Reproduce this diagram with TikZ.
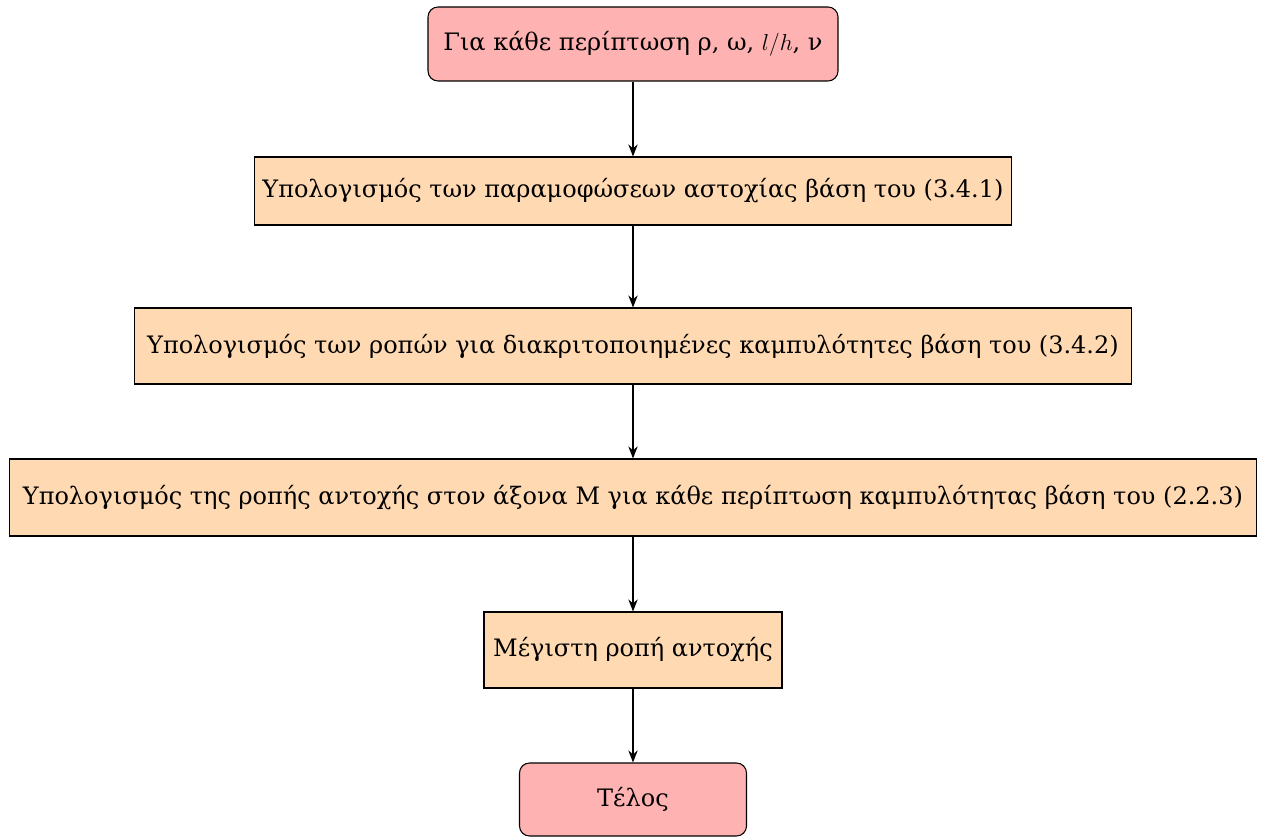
\documentclass[tikz,border=0pt]{standalone}
\usepackage{fontspec}
\setmainfont{DejaVu Serif}
\usetikzlibrary{arrows.meta}
\begin{document}
\begin{tikzpicture}[x=0.75pt,y=-0.75pt,
  every node/.style={font=\fontsize{18}{21}\selectfont, inner sep=0pt, align=center},
  startstop/.style={draw=black, line width=0.8pt, fill=red!30, rounded corners=7.5pt},
  process/.style={draw=black, line width=0.8pt, fill=orange!30},
  flow/.style={-{Stealth[length=9pt,width=7pt]}, line width=1.2pt}]
\useasboundingbox (0,0) rectangle (1264,837);
\node[startstop, minimum width=307.5pt, minimum height=55.5pt] (start) at (633,44)
  {Για κάθε περίπτωση ρ, ω, $l/h$, ν};
\node[process, minimum width=567.75pt, minimum height=51pt] (deform) at (633,191)
  {Υπολογισμός των παραμοφώσεων αστοχίας βάση του (3.4.1)};
\node[process, minimum width=747.75pt, minimum height=57pt] (moments) at (633,346)
  {Υπολογισμός των ροπών για διακριτοποιημένες καμπυλότητες βάση του (3.4.2)};
\node[process, minimum width=935.25pt, minimum height=57.75pt] (resist) at (633,497.5)
  {Υπολογισμός της ροπής αντοχής στον άξονα Μ για κάθε περίπτωση καμπυλότητας βάση του (2.2.3)};
\node[process, minimum width=223.5pt, minimum height=57pt] (max) at (633,650)
  {Μέγιστη ροπή αντοχής};
\node[startstop, minimum width=170.25pt, minimum height=54.75pt] (end) at (633,799.5)
  {Τέλος};
\draw[flow] (start) -- (deform);
\draw[flow] (deform) -- (moments);
\draw[flow] (moments) -- (resist);
\draw[flow] (resist) -- (max);
\draw[flow] (max) -- (end);
\end{tikzpicture}
\end{document}
